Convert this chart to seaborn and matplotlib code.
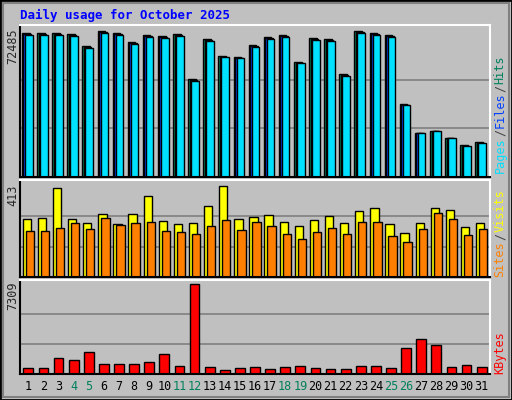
import numpy as np
import matplotlib
matplotlib.use('Agg')
import matplotlib.pyplot as plt
import seaborn as sns
from matplotlib.patches import Rectangle

sns.set_style('white')
plt.rcParams['font.family'] = ['DejaVu Sans Mono']

days = list(range(1, 32))
weekends = [4, 5, 11, 12, 18, 19, 25, 26]

hits_px = [31, 31, 31, 32, 44, 29, 31, 40, 33, 34, 32, 78, 37, 54, 55, 43,
           35, 33, 60, 36, 37, 73, 29, 31, 33, 103, 132, 130, 137, 145, 142]
hits = [round(72485 * (177 - y) / 146) for y in hits_px]
files = [round(h * 0.99) for h in hits]
pages = [round(h * 0.985) for h in hits]

visits_px = [218, 217, 186, 218, 222, 213, 223, 213, 194, 220, 223, 222, 205, 184, 218, 216,
             214, 221, 225, 219, 215, 222, 210, 206, 223, 232, 222, 206, 208, 226, 222]
sites_px = [230, 230, 227, 222, 228, 217, 224, 222, 221, 230, 231, 233, 225, 219, 229, 221,
            225, 233, 238, 231, 227, 233, 221, 221, 235, 241, 228, 212, 218, 234, 228]
visits = [round(413 * (277 - y) / 91) for y in visits_px]
sites = [round(413 * (277 - y) / 91) for y in sites_px]

kb_px = [368, 368, 358, 360, 352, 364, 364, 364, 362, 354, 366, 284, 367, 370, 368, 367,
         369, 367, 366, 368, 369, 369, 366, 366, 368, 348, 339, 345, 367, 365, 367]
kbytes = [round(7309 * (374 - y) / 90) for y in kb_px]

gray = '#C0C0C0'
fig = plt.figure(figsize=(5.12, 4.0), dpi=100, facecolor=gray)
fig.patches.append(Rectangle((0, 0), 1, 1, transform=fig.transFigure, fill=False,
                             edgecolor='black', linewidth=2))
fig.patches.append(Rectangle((0.006, 0.008), 0.988, 0.984, transform=fig.transFigure,
                             fill=False, edgecolor='#808080', linewidth=1.5))

x = np.array(days)
ax1 = fig.add_axes([20/512, 1-177/400, 470/512, 152/400])
ax2 = fig.add_axes([20/512, 1-277/400, 470/512, 97/400])
ax3 = fig.add_axes([20/512, 1-374/400, 470/512, 94/400])

ax1.bar(x - 0.17, hits, width=0.5, color='#00805c', edgecolor='black', linewidth=1)
ax1.bar(x - 0.07, files, width=0.5, color='#0040ff', edgecolor='black', linewidth=1)
ax1.bar(x + 0.03, pages, width=0.5, color='#00e0ff', edgecolor='black', linewidth=1)
ax1.set_ylim(0, max(hits) * 152 / 146)

ax2.bar(x - 0.1, visits, width=0.55, color='#ffff00', edgecolor='black', linewidth=1)
ax2.bar(x + 0.1, sites, width=0.55, color='#ff8000', edgecolor='black', linewidth=1)
ax2.set_ylim(0, max(visits) * 97 / 91)

ax3.bar(x, kbytes, width=0.65, color='#ff0000', edgecolor='black', linewidth=1)
ax3.set_ylim(0, max(kbytes) * 94 / 90)

for ax, top in [(ax1, max(hits)), (ax2, max(visits)), (ax3, max(kbytes))]:
    ax.set_facecolor(gray)
    ax.set_xlim(0.45, 31.55)
    for f in (1/3, 2/3):
        ax.axhline(top * f, color='#808080', linewidth=1.2, zorder=0)
    ax.set_yticks([])
    ax.set_xticks([])
    for s in ['top', 'right']:
        ax.spines[s].set_color('white')
    for s in ['left', 'bottom']:
        ax.spines[s].set_color('black')
    for s in ax.spines.values():
        s.set_linewidth(1.5)
    ax.set_axisbelow(True)

ax3.set_xticks(days)
ax3.set_xticklabels([str(d) for d in days], fontsize=8.5)
ax3.tick_params(axis='x', length=0, pad=4)
for lab, d in zip(ax3.get_xticklabels(), days):
    lab.set_color('#00805c' if d in weekends else 'black')

fig.text(20/512, 1-15/400, 'Daily usage for October 2025', color='#0000ff',
         fontsize=9, fontweight='bold', va='center')
fig.text(13/512, 1-46/400, '72485', rotation=90, fontsize=8.5, ha='center', va='center')
fig.text(13/512, 1-195/400, '413', rotation=90, fontsize=8.5, ha='center', va='center')
fig.text(13/512, 1-296/400, '7309', rotation=90, fontsize=8.5, ha='center', va='center')

fig.canvas.draw()
renderer = fig.canvas.get_renderer()


def right_label(parts, y_bottom):
    y = y_bottom
    for txt, col in parts:
        t = fig.text(500/512, y/400, txt, rotation=90, color=col, fontsize=8.5,
                     ha='center', va='bottom')
        bb = t.get_window_extent(renderer)
        y += bb.height + 1


right_label([('Pages', '#00e0ff'), ('/', '#404040'), ('Files', '#0040ff'),
             ('/', '#404040'), ('Hits', '#00805c')], 400 - 173)
right_label([('Sites', '#ff8000'), ('/', '#404040'), ('Visits', '#ffff00')], 400 - 277)
right_label([('KBytes', '#ff0000')], 400 - 374)

fig.savefig('out.png', dpi=100, facecolor=gray)
